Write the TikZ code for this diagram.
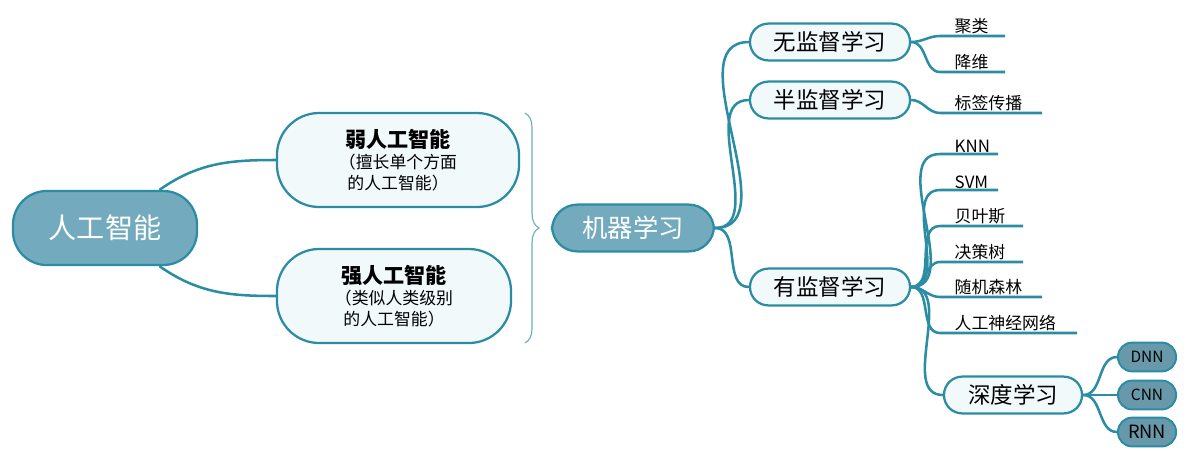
\documentclass[tikz,border=0pt]{standalone}
\usepackage{fontspec}
\setmainfont{Noto Sans CJK SC}
\usetikzlibrary{decorations.pathreplacing}
\definecolor{teal1}{HTML}{2B8CA3}
\definecolor{fillA}{HTML}{74AABD}
\definecolor{fillB}{HTML}{F2F9FB}
\tikzset{
  link/.style={teal1,line width=1.8pt},
  hub/.style={draw=teal1,line width=1.6pt,fill=fillA,rounded corners=18pt,text=white,align=center},
  topic/.style={draw=teal1,line width=1.6pt,fill=fillB,rounded corners=13pt,align=center,inner sep=0pt},
  leaf/.style={anchor=south west,inner sep=1pt,font=\fontsize{12}{14}\selectfont},
  net/.style={draw=teal1,line width=1.4pt,fill=fillA!90!black,rounded corners=10pt,minimum width=1.45cm,minimum height=0.72cm,inner sep=0pt,font=\fontsize{11}{13}\selectfont}
}
\begin{document}
\begin{tikzpicture}[x=0.025cm,y=-0.025cm]
    \useasboundingbox (0,0) rectangle (1200,450);
    % main nodes
    \node[hub,minimum width=4.6cm,minimum height=1.85cm,rounded corners=24pt,font=\fontsize{20}{24}\selectfont] (ai) at (105,228) {人工智能};
    \node[topic,minimum width=6.05cm,minimum height=2.35cm,rounded corners=30pt,font=\fontsize{12}{15}\selectfont] (weak) at (398,160)
        {{\fontsize{15}{18}\selectfont\bfseries 弱人工智能}\\（擅长单个方面\\的人工智能）};
    \node[topic,minimum width=5.85cm,minimum height=2.35cm,rounded corners=30pt,font=\fontsize{12}{15}\selectfont] (strong) at (394,296)
        {{\fontsize{15}{18}\selectfont\bfseries 强人工智能}\\（类似人类级别\\的人工智能）};
    \node[hub,minimum width=4.05cm,minimum height=1.17cm,font=\fontsize{18}{22}\selectfont] (ml) at (633,228) {机器学习};
    \draw[link] (ai) to[out=35,in=180] (weak.west);
    \draw[link] (ai) to[out=-35,in=180] (strong.west);
    \draw[teal1!70,line width=0.8pt,decorate,decoration={brace,amplitude=10pt}] (525,113) -- (525,343);

    \node[topic,minimum width=4.0cm,minimum height=0.92cm,font=\fontsize{16}{19}\selectfont] (uns) at (830,42) {无监督学习};
    \node[topic,minimum width=4.0cm,minimum height=0.92cm,font=\fontsize{16}{19}\selectfont] (semi) at (830,100) {半监督学习};
    \node[topic,minimum width=4.0cm,minimum height=0.92cm,font=\fontsize{16}{19}\selectfont] (sup) at (830,287) {有监督学习};
    \node[topic,minimum width=3.45cm,minimum height=0.92cm,font=\fontsize{16}{19}\selectfont] (deep) at (1013,395) {深度学习};
    \draw[link] (ml.east) to[out=0,in=180] (uns.west);
    \draw[link] (ml.east) to[out=0,in=180] (semi.west);
    \draw[link] (ml.east) to[out=0,in=180] (sup.west);

    % leaves: name / underline y / underline end
    \foreach \nm/\txt/\src/\yy/\xe in {a/聚类/uns/36/1005, b/降维/uns/72/1005, c/标签传播/semi/113/1042,
        d/KNN/sup/154/998, e/SVM/sup/190/998, f/贝叶斯/sup/226/1023, g/决策树/sup/262/1023,
        h/随机森林/sup/297/1042, i/人工神经网络/sup/333/1077} {
      \coordinate (\nm s) at (940,\yy);
      \coordinate (\nm e) at (\xe,\yy);
      \node[leaf] (\nm) at (953,\yy) {\txt};
      \draw[link] (\src.east) to[out=0,in=180] (\nm s) -- (\nm e);
    }
    \draw[link] (sup.east) to[out=0,in=180] (deep.west);

    \node[net] (dnn) at (1147,357) {DNN};
    \node[net] (cnn) at (1147,395) {CNN};
    \node[net,font=\fontsize{13}{15}\selectfont] (rnn) at (1147,432) {RNN};
    \foreach \t in {dnn,cnn,rnn}
      \draw[link] (deep.east) to[out=0,in=180] (\t.west);
\end{tikzpicture}
\end{document}
